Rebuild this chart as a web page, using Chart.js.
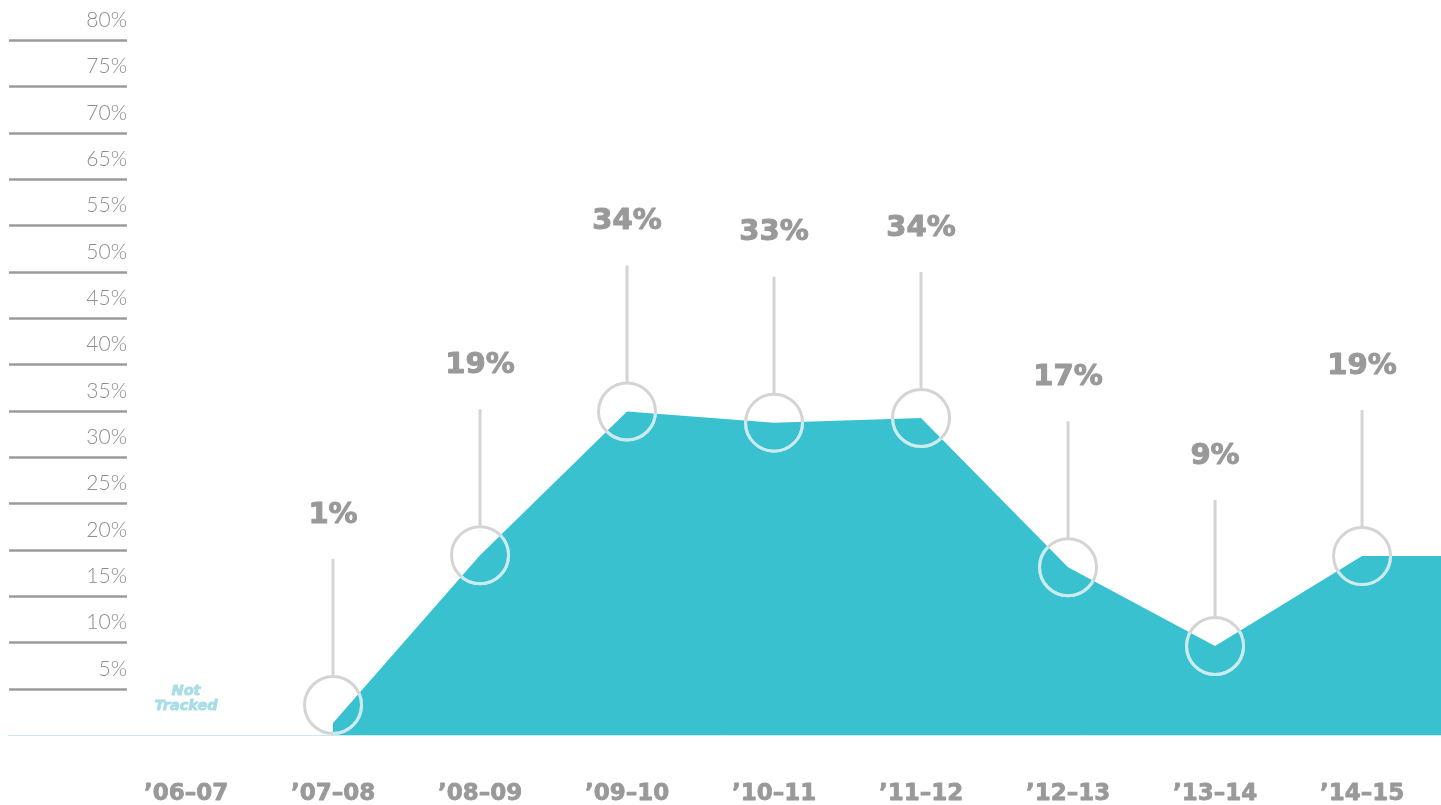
<!DOCTYPE html>
<html>
<head>
<meta charset="utf-8">
<script src="https://cdn.jsdelivr.net/npm/chart.js@4.4.1/dist/chart.umd.min.js"></script>
<style>
  html, body { margin: 0; padding: 0; background: #ffffff; }
  #wrap { position: relative; width: 1441px; height: 805px; }
</style>
</head>
<body>
<div id="wrap"><canvas id="c"></canvas></div>
<script>
// ---- data ----
const categories = ['\u201906\u201307', '\u201907\u201308', '\u201908\u201309', '\u201909\u201310', '\u201910\u201311', '\u201911\u201312', '\u201912\u201313', '\u201913\u201314', '\u201914\u201315'];
const shareValues = [null, 1.3, 19.4, 34.9, 33.7, 34.2, 18.1, 9.6, 19.3];
const valueLabels = ['', '1%', '19%', '34%', '33%', '34%', '17%', '9%', '19%'];
const continuationValue = 19.3; // area continues flat past the last season
const notTrackedLabel = ['Not', 'Tracked'];
const yTickValues = [5, 10, 15, 20, 25, 30, 35, 40, 45, 50, 55, 60, 65, 70, 75];
const yTickLabels = ['5%', '10%', '15%', '20%', '25%', '30%', '35%', '40%', '45%', '50%', '55%', '65%', '70%', '75%', '80%'];

const points = categories.map((c, i) => ({ x: i, y: shareValues[i] }));
points.push({ x: categories.length, y: continuationValue });

const LIGHT = 'Lato, "Open Sans", sans-serif';
const HEAVY = '"DejaVu Sans", Lato, sans-serif';

function heavyText(ctx, txt, x, y, w) {
  ctx.lineWidth = w;
  ctx.lineJoin = 'round';
  ctx.strokeStyle = ctx.fillStyle;
  ctx.strokeText(txt, x, y);
  ctx.fillText(txt, x, y);
}

const decor = {
  id: 'decor',
  beforeDatasetsDraw(chart) {
    const ctx = chart.ctx, xs = chart.scales.x, ys = chart.scales.y;
    const base = ys.getPixelForValue(0);
    ctx.save();
    // short gridlines + y labels
    ctx.textAlign = 'right';
    ctx.textBaseline = 'middle';
    ctx.font = '300 21px ' + LIGHT;
    yTickValues.forEach((v, k) => {
      const py = Math.round(ys.getPixelForValue(v)) + 0.5;
      ctx.strokeStyle = '#9b9b9b';
      ctx.lineWidth = 2.5;
      ctx.beginPath();
      ctx.moveTo(9, py);
      ctx.lineTo(127, py);
      ctx.stroke();
      ctx.fillStyle = '#8e8e8e';
      ctx.fillText(yTickLabels[k], 127, py - 20);
    });
    // baseline
    ctx.strokeStyle = '#c6ebf0';
    ctx.lineWidth = 1;
    ctx.beginPath();
    ctx.moveTo(chart.chartArea.left, Math.round(base) + 0.5);
    ctx.lineTo(chart.chartArea.right, Math.round(base) + 0.5);
    ctx.stroke();
    // category labels
    ctx.textAlign = 'center';
    ctx.font = 'bold 23px ' + HEAVY;
    ctx.fillStyle = '#999999';
    categories.forEach((c, i) => {
      heavyText(ctx, c, xs.getPixelForValue(i), 794, 0.8);
    });
    // not tracked
    ctx.font = 'bold oblique 14.5px ' + HEAVY;
    ctx.fillStyle = '#a6dde6';
    const nx = xs.getPixelForValue(0);
    heavyText(ctx, notTrackedLabel[0], nx, 691, 0.8);
    heavyText(ctx, notTrackedLabel[1], nx, 706, 0.8);
    ctx.restore();
  },
  afterDatasetsDraw(chart) {
    const ctx = chart.ctx, ys = chart.scales.y;
    const meta = chart.getDatasetMeta(0);
    const base = ys.getPixelForValue(0);
    const area = chart.chartArea;
    const R = 28.5;
    // area outline path for clipping
    const valid = meta.data.filter((pt, i) => points[i].y != null);
    const areaPath = new Path2D();
    areaPath.moveTo(valid[0].x, base);
    valid.forEach(pt => areaPath.lineTo(pt.x, pt.y));
    areaPath.lineTo(valid[valid.length - 1].x, base);
    areaPath.closePath();

    const circles = [];
    meta.data.forEach((pt, i) => {
      if (i >= categories.length || shareValues[i] == null) return;
      circles.push({ i, cx: pt.x, cy: Math.min(pt.y, base - R - 1.5) });
    });

    ctx.save();
    ctx.lineWidth = 3;
    // grey circles
    ctx.strokeStyle = '#d4d4d4';
    circles.forEach(c => {
      ctx.beginPath();
      ctx.arc(c.cx, c.cy, R, 0, Math.PI * 2);
      ctx.stroke();
    });
    // pale part over the filled area
    ctx.save();
    ctx.beginPath();
    ctx.rect(area.left, area.top, area.right - area.left, area.bottom - area.top);
    ctx.clip();
    ctx.clip(areaPath);
    ctx.strokeStyle = '#c8edf1';
    circles.forEach(c => {
      ctx.beginPath();
      ctx.arc(c.cx, c.cy, R, 0, Math.PI * 2);
      ctx.stroke();
    });
    ctx.restore();
    // leader lines and value labels
    circles.forEach(c => {
      ctx.strokeStyle = '#d4d4d4';
      ctx.lineWidth = 3;
      ctx.beginPath();
      ctx.moveTo(c.cx, c.cy - R - 1);
      ctx.lineTo(c.cx, c.cy - 146);
      ctx.stroke();
      ctx.fillStyle = '#999999';
      ctx.font = 'bold 29px ' + HEAVY;
      ctx.textAlign = 'center';
      ctx.textBaseline = 'middle';
      heavyText(ctx, valueLabels[c.i], c.cx, c.cy - 190, 1);
    });
    ctx.restore();
  }
};

new Chart(document.getElementById('c'), {
  type: 'line',
  data: {
    datasets: [{
      data: points,
      fill: 'origin',
      backgroundColor: '#3ac1cf',
      borderWidth: 0,
      borderColor: 'rgba(0,0,0,0)',
      pointRadius: 0,
      pointHoverRadius: 0,
      tension: 0,
      spanGaps: false
    }]
  },
  options: {
    responsive: true,
    maintainAspectRatio: false,
    animation: false,
    events: [],
    layout: { padding: { left: 8, right: 0, top: 0, bottom: 70 } },
    plugins: { legend: { display: false }, tooltip: { enabled: false } },
    scales: {
      x: { type: 'linear', display: false, min: -1.211, max: 8.537 },
      y: { type: 'linear', display: false, min: 0, max: 79.3 }
    }
  },
  plugins: [decor]
});
</script>
</body>
</html>
